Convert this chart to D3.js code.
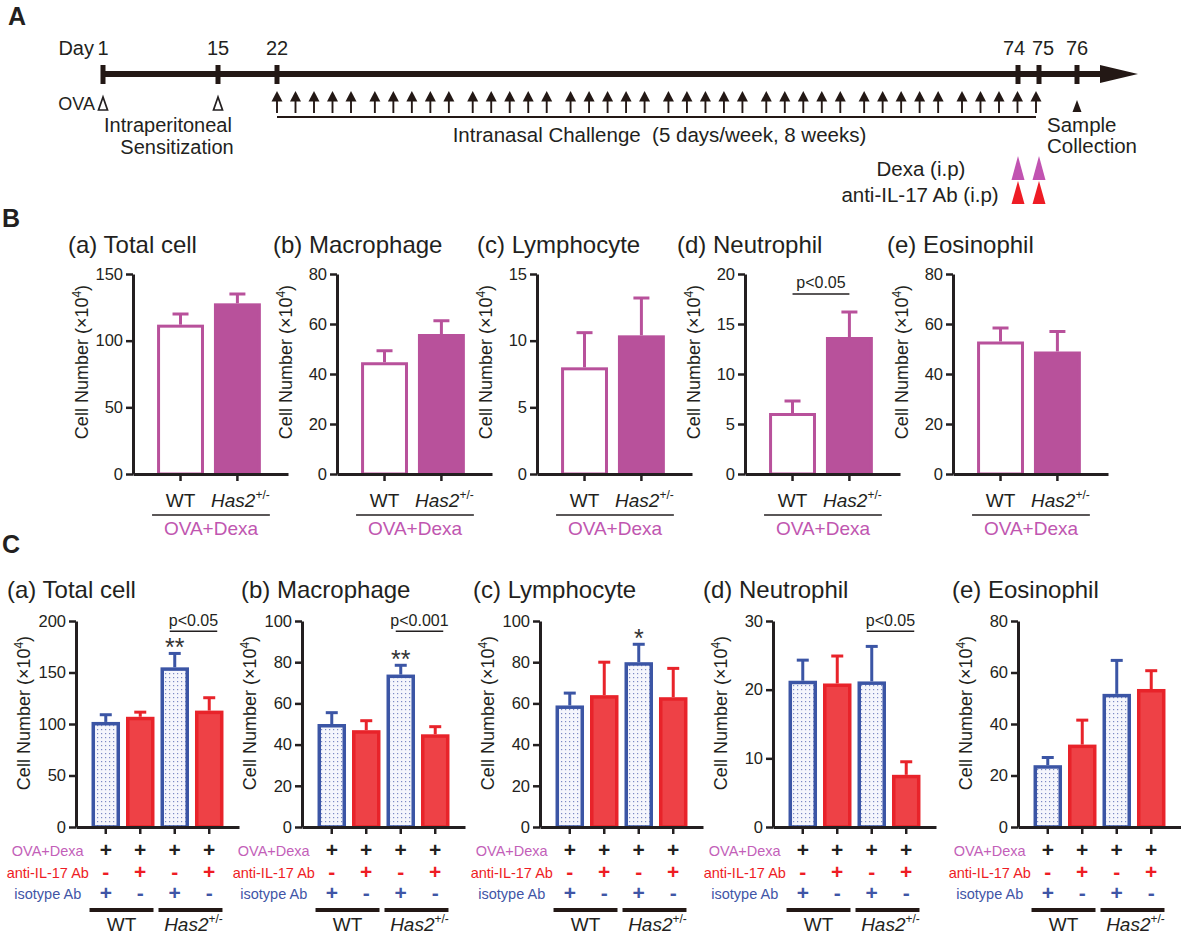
<!DOCTYPE html>
<html>
<head>
<meta charset="utf-8">
<title>Has2 BAL cells</title>
<script src="https://d3js.org/d3.v7.min.js"></script>
<style>
  body { margin: 0; background: #fff; }
  svg { display: block; font-family: "Liberation Sans", Arial, sans-serif; }
</style>
</head>
<body>
<svg id="fig" width="1181" height="937"></svg>
<script>
// ---------- data ----------
// timeline (panel A)
var dayTicks = [1, 15, 22, 74, 75, 76];
var ovaDays = [1, 15];
var challengeDays = [22, 23, 24, 25, 26, 29, 30, 31, 32, 33, 36, 37, 38, 39, 40,
                     43, 44, 45, 46, 47, 50, 51, 52, 53, 54, 57, 58, 59, 60, 61,
                     64, 65, 66, 67, 68, 71, 72, 73, 74, 75];
var dexaDays = [74, 75];
var antiIL17Days = [74, 75];
var sampleDays = [76];

// panel titles
var panelTags = ["(a)", "(b)", "(c)", "(d)", "(e)"];
var cellTypes = ["Total cell", "Macrophage", "Lymphocyte", "Neutrophil", "Eosinophil"];

// panel B : OVA+Dexa, WT vs Has2+/-  (mean, SEM)
var bGroups = ["WT", "Has2"];
var bTotal = [112, 128],      bTotalErr = [8, 7];
var bMacro = [44.7, 56],      bMacroErr = [4.6, 5.3];
var bLympho = [8.0, 10.4],    bLymphoErr = [2.6, 2.8];
var bNeutro = [6.1, 13.7],    bNeutroErr = [1.2, 2.5];
var bEosino = [53, 49],       bEosinoErr = [5.4, 8];
var bYMax = [150, 80, 15, 20, 80];
var bYStep = [50, 20, 5, 5, 20];

// panel C : WT/Has2 x isotype/anti-IL-17 (mean, SEM)
var cGroups = ["WT-iso", "WT-anti", "Has2-iso", "Has2-anti"];
var ovaDexaRow = ["+", "+", "+", "+"];
var antiIL17Row = ["-", "+", "-", "+"];
var isotypeRow = ["+", "-", "+", "-"];
var cTotal = [102, 107, 155, 113],   cTotalErr = [7, 4.5, 13.5, 12.5];
var cMacro = [50, 47, 74, 45],       cMacroErr = [5.5, 4.6, 4.5, 3.7];
var cLympho = [59, 64, 80, 63],      cLymphoErr = [6, 16, 8.7, 14];
var cNeutro = [21.3, 20.9, 21.2, 7.6], cNeutroErr = [3, 4, 5.1, 1.9];
var cEosino = [24, 32, 51.7, 53.6],  cEosinoErr = [3, 9.5, 13, 7.1];
var cYMax = [200, 100, 100, 30, 80];
var cYStep = [50, 20, 20, 10, 20];
var cStars = ["**", "**", "*", "", ""];
var cPValue = ["p<0.05", "p<0.001", "", "p<0.05", ""];

// ---------- styles ----------
var ink = "#231f20";
var magenta = "#b8519b";
var magentaText = "#c056b0";
var red = "#e8232a";
var redFill = "#ee4146";
var blue = "#3b55a5";

var svg = d3.select("#fig");

var pat = svg.append("defs").append("pattern")
  .attr("id", "dots").attr("width", 4).attr("height", 4)
  .attr("patternUnits", "userSpaceOnUse");
pat.append("rect").attr("width", 4).attr("height", 4).attr("fill", "#f5f6fc");
pat.append("rect").attr("x", 1).attr("y", 1).attr("width", 1.2).attr("height", 1.2).attr("fill", "#7c89c4");

function letter(t, x, y) {
  svg.append("text").attr("x", x).attr("y", y)
    .attr("font-size", 25).attr("font-weight", "bold").attr("fill", ink).text(t);
}
letter("A", 8, 25);
letter("B", 2, 227);
letter("C", 2, 553);

// ---------- A: timeline ----------
var xDay = d3.scaleLinear().domain(dayTicks).range([103, 218, 277, 1018, 1039, 1077]);
var xWeek = d3.scaleLinear().domain([0, 7]).range([277, 962]);
var xWeekday = d3.scaleLinear().domain([0, 4]).range([0, 74]);
function xChallenge(d) {
  var k = d - challengeDays[0];
  return xWeek(Math.floor(k / 7)) + xWeekday(k % 7);
}

var tl = svg.append("g").attr("fill", ink);
var lineY = 74;

tl.append("line")
  .attr("x1", xDay(dayTicks[0])).attr("x2", 1104)
  .attr("y1", lineY).attr("y2", lineY)
  .attr("stroke", "#231815").attr("stroke-width", 6);
tl.append("path")
  .attr("d", "M1100," + (lineY - 9) + "L1138," + lineY + "L1100," + (lineY + 9) + "Z")
  .attr("fill", "#231815");

tl.selectAll("rect.tick").data(dayTicks).enter().append("rect")
  .attr("x", function(d) { return xDay(d) - 2.5; })
  .attr("y", lineY - 9).attr("width", 5).attr("height", 19)
  .attr("fill", "#231815");

tl.append("text").attr("x", xDay(1) - 9).attr("y", 55)
  .attr("text-anchor", "end").attr("font-size", 20).text("Day");
tl.selectAll("text.day").data(dayTicks).enter().append("text")
  .attr("x", function(d) { return xDay(d) + (d === 74 ? -4 : d === 75 ? 4 : 0); })
  .attr("y", 55).attr("text-anchor", "middle").attr("font-size", 20)
  .text(function(d) { return d; });

tl.append("text").attr("x", xDay(1) - 8).attr("y", 110)
  .attr("text-anchor", "end").attr("font-size", 18).text("OVA");
tl.selectAll("path.ova").data(ovaDays).enter().append("path")
  .attr("d", function(d) { var x = xDay(d); return "M" + x + ",97L" + (x + 4.5) + ",110L" + (x - 4.5) + ",110Z"; })
  .attr("fill", "#fff").attr("stroke", ink).attr("stroke-width", 1.7);
tl.append("text").attr("x", 168).attr("y", 132).attr("text-anchor", "middle")
  .attr("font-size", 20).text("Intraperitoneal");
tl.append("text").attr("x", 177).attr("y", 154).attr("text-anchor", "middle")
  .attr("font-size", 20).text("Sensitization");

var ch = tl.selectAll("g.ch").data(challengeDays).enter().append("g")
  .attr("transform", function(d) { return "translate(" + xChallenge(d) + ",0)"; });
ch.append("path").attr("d", "M0,91L5.5,101.5L-5.5,101.5Z").attr("fill", "#231815");
ch.append("line").attr("y1", 100).attr("y2", 113).attr("stroke", "#231815").attr("stroke-width", 1.9);

var cFirst = xChallenge(challengeDays[0]), cLast = xChallenge(challengeDays[challengeDays.length - 1]);
tl.append("line").attr("x1", cFirst).attr("x2", cLast).attr("y1", 117).attr("y2", 117)
  .attr("stroke", "#231815").attr("stroke-width", 2);
tl.append("text").attr("x", (cFirst + cLast) / 2 + 3).attr("y", 142)
  .attr("text-anchor", "middle").attr("font-size", 20.5).attr("xml:space", "preserve")
  .text("Intranasal Challenge  (5 days/week, 8 weeks)");

tl.selectAll("path.sample").data(sampleDays).enter().append("path")
  .attr("d", function(d) { var x = xDay(d); return "M" + x + ",100L" + (x + 4.5) + ",112L" + (x - 4.5) + ",112Z"; })
  .attr("fill", "#231815");
tl.append("text").attr("x", xDay(76) - 30).attr("y", 132).attr("font-size", 20.5).text("Sample");
tl.append("text").attr("x", xDay(76) - 30).attr("y", 153).attr("font-size", 20.5).text("Collection");

tl.selectAll("path.dexa").data(dexaDays).enter().append("path")
  .attr("d", function(d) { var x = xDay(d); return "M" + x + ",156L" + (x + 6.5) + ",180L" + (x - 6.5) + ",180Z"; })
  .attr("fill", "#c153b1");
tl.selectAll("path.anti").data(antiIL17Days).enter().append("path")
  .attr("d", function(d) { var x = xDay(d); return "M" + x + ",181L" + (x + 6.5) + ",204L" + (x - 6.5) + ",204Z"; })
  .attr("fill", "#ee1c25");
tl.append("text").attr("x", 921).attr("y", 176).attr("text-anchor", "middle")
  .attr("font-size", 20.5).text("Dexa (i.p)");
tl.append("text").attr("x", 920).attr("y", 202).attr("text-anchor", "middle")
  .attr("font-size", 20.5).text("anti-IL-17 Ab (i.p)");

// ---------- helpers ----------
function styleAxis(g) {
  g.attr("font-family", null).attr("font-size", 16.5).attr("color", ink);
  g.select(".domain").attr("stroke-width", 3);
  g.selectAll(".tick line").attr("stroke-width", 2.5);
}
function yTitle(g, x, y) {
  var t = g.append("text").attr("transform", "translate(" + x + "," + y + ") rotate(-90)")
    .attr("text-anchor", "middle").attr("font-size", 18).attr("fill", ink);
  t.append("tspan").text("Cell Number (\u00d710");
  t.append("tspan").attr("font-size", 12).attr("dy", -7).text("4");
  t.append("tspan").attr("dy", 7).text(")");
}
function has2(sel) {
  sel.append("tspan").attr("font-style", "italic").text("Has2");
  sel.append("tspan").attr("font-size", 12).attr("dy", -8).text("+/-");
}

// ---------- B ----------
var bMeans = [bTotal, bMacro, bLympho, bNeutro, bEosino];
var bErrs = [bTotalErr, bMacroErr, bLymphoErr, bNeutroErr, bEosinoErr];
var bAxisX = [133, 337, 537, 745, 953];
var bTitleX = [68, 273, 477, 677, 887];
var bTop = 274, bBot = 474;

cellTypes.forEach(function(name, i) {
  var ax = bAxisX[i];
  var g = svg.append("g");
  var y = d3.scaleLinear().domain([0, bYMax[i]]).range([bBot, bTop]);
  var x = d3.scaleBand().domain(bGroups).range([ax, ax + 155])
    .paddingInner(0.175).paddingOuter(0.45).align(0.47);
  var bw = x.bandwidth();
  var rows = bGroups.map(function(k, j) { return {k: k, v: bMeans[i][j], e: bErrs[i][j]}; });

  g.append("text").attr("x", bTitleX[i]).attr("y", 253).attr("font-size", 24).attr("fill", ink)
    .text(panelTags[i] + " " + name);

  // error bars
  var eb = g.selectAll("g.err").data(rows).enter().append("g")
    .attr("stroke", magenta).attr("stroke-width", 3);
  eb.append("line").attr("x1", function(d) { return x(d.k) + bw / 2; })
    .attr("x2", function(d) { return x(d.k) + bw / 2; })
    .attr("y1", function(d) { return y(d.v); }).attr("y2", function(d) { return y(d.v + d.e); });
  eb.append("line").attr("x1", function(d) { return x(d.k) + bw / 2 - 8; })
    .attr("x2", function(d) { return x(d.k) + bw / 2 + 8; })
    .attr("y1", function(d) { return y(d.v + d.e); }).attr("y2", function(d) { return y(d.v + d.e); });

  g.selectAll("rect.bar").data(rows).enter().append("rect")
    .attr("x", function(d) { return x(d.k) + 1.5; })
    .attr("width", bw - 3)
    .attr("y", function(d) { return y(d.v) + 1.5; })
    .attr("height", function(d) { return bBot - y(d.v) - 1.5; })
    .attr("fill", function(d, j) { return j === 0 ? "#fff" : magenta; })
    .attr("stroke", magenta).attr("stroke-width", 3);

  g.append("g").attr("transform", "translate(" + ax + ",0)")
    .call(d3.axisLeft(y).tickValues(d3.range(0, bYMax[i] + 0.1, bYStep[i]))
      .tickSize(7).tickSizeOuter(0).tickPadding(3))
    .call(styleAxis);
  g.append("g").attr("transform", "translate(0," + bBot + ")")
    .call(d3.axisBottom(x).tickSize(7).tickSizeOuter(0).tickFormat(""))
    .call(styleAxis);

  yTitle(g, ax - 45, (bTop + bBot) / 2 - 12);

  g.append("text").attr("x", x("WT") + bw / 2).attr("y", bBot + 33)
    .attr("text-anchor", "middle").attr("font-size", 19).attr("fill", ink).text("WT");
  var ht = g.append("text").attr("x", x("Has2") + bw / 2 + 3).attr("y", bBot + 33)
    .attr("text-anchor", "middle").attr("font-size", 19).attr("fill", ink);
  has2(ht);

  var l0 = x("WT") - 5, l1 = x("Has2") + bw + 9;
  g.append("line").attr("x1", l0).attr("x2", l1).attr("y1", bBot + 41).attr("y2", bBot + 41)
    .attr("stroke", ink).attr("stroke-width", 1.6);
  g.append("text").attr("x", (l0 + l1) / 2).attr("y", bBot + 61).attr("text-anchor", "middle")
    .attr("font-size", 19).attr("fill", magentaText).text("OVA+Dexa");

  if (name === "Neutrophil") {
    var p0 = x("WT") + bw / 2, p1 = x("Has2") + bw / 2;
    g.append("line").attr("x1", p0).attr("x2", p1).attr("y1", bTop + 20).attr("y2", bTop + 20)
      .attr("stroke", ink).attr("stroke-width", 1.5);
    g.append("text").attr("x", (p0 + p1) / 2).attr("y", bTop + 14).attr("text-anchor", "middle")
      .attr("font-size", 16).attr("fill", ink).text("p<0.05");
  }
});

// ---------- C ----------
var cMeans = [cTotal, cMacro, cLympho, cNeutro, cEosino];
var cErrs = [cTotalErr, cMacroErr, cLymphoErr, cNeutroErr, cEosinoErr];
var cAxisX = [76, 302, 540, 773, 1018];
var cTitleX = [7, 241, 473, 703, 952];
var cTop = 621, cBot = 827;
var rowDefs = [
  {label: "OVA+Dexa", vals: ovaDexaRow, lab: "#c35fb9", sym: ink},
  {label: "anti-IL-17 Ab", vals: antiIL17Row, lab: "#ee1c24", sym: "#ee1c24"},
  {label: "isotype Ab", vals: isotypeRow, lab: "#3f55a6", sym: "#3f55a6"}
];

cellTypes.forEach(function(name, i) {
  var ax = cAxisX[i];
  var g = svg.append("g");
  var y = d3.scaleLinear().domain([0, cYMax[i]]).range([cBot, cTop]);
  var x = d3.scaleBand().domain(cGroups).range([ax, ax + 163])
    .paddingInner(0.174).paddingOuter(0.45).align(0.5);
  var bw = x.bandwidth();
  var rows = cGroups.map(function(k, j) {
    return {k: k, v: cMeans[i][j], e: cErrs[i][j], iso: isotypeRow[j] === "+"};
  });
  function cx(k) { return x(k) + bw / 2; }

  g.append("text").attr("x", cTitleX[i]).attr("y", 598).attr("font-size", 24).attr("fill", ink)
    .text(panelTags[i] + " " + name);

  var eb = g.selectAll("g.err").data(rows).enter().append("g")
    .attr("stroke", function(d) { return d.iso ? blue : red; }).attr("stroke-width", 3);
  eb.append("line").attr("x1", function(d) { return cx(d.k); }).attr("x2", function(d) { return cx(d.k); })
    .attr("y1", function(d) { return y(d.v); }).attr("y2", function(d) { return y(d.v + d.e); });
  eb.append("line").attr("x1", function(d) { return cx(d.k) - 6; }).attr("x2", function(d) { return cx(d.k) + 6; })
    .attr("y1", function(d) { return y(d.v + d.e); }).attr("y2", function(d) { return y(d.v + d.e); });

  g.selectAll("rect.bar").data(rows).enter().append("rect")
    .attr("x", function(d) { return x(d.k) + 1.75; })
    .attr("width", bw - 3.5)
    .attr("y", function(d) { return y(d.v) + 1.75; })
    .attr("height", function(d) { return cBot - y(d.v) - 1.75; })
    .attr("fill", function(d) { return d.iso ? "url(#dots)" : redFill; })
    .attr("stroke", function(d) { return d.iso ? blue : red; })
    .attr("stroke-width", 3.5);

  g.append("g").attr("transform", "translate(" + ax + ",0)")
    .call(d3.axisLeft(y).tickValues(d3.range(0, cYMax[i] + 0.1, cYStep[i]))
      .tickSize(7).tickSizeOuter(0).tickPadding(3))
    .call(styleAxis);
  g.append("g").attr("transform", "translate(0," + cBot + ")")
    .call(d3.axisBottom(x).tickSize(7).tickSizeOuter(0).tickFormat(""))
    .call(styleAxis);

  yTitle(g, ax - 46, (cTop + cBot) / 2 - 11);

  // significance
  if (cStars[i]) {
    g.append("text").attr("x", cx(cGroups[2])).attr("y", y(rows[2].v + rows[2].e) + 3)
      .attr("text-anchor", "middle").attr("font-size", 25).attr("fill", "#333").text(cStars[i]);
  }
  if (cPValue[i]) {
    var p0 = cx(cGroups[2]) - 5, p1 = cx(cGroups[3]) + 8, py = y(cYMax[i] * 0.95);
    g.append("line").attr("x1", p0).attr("x2", p1).attr("y1", py).attr("y2", py)
      .attr("stroke", ink).attr("stroke-width", 1.5);
    g.append("text").attr("x", (p0 + p1) / 2).attr("y", py - 5).attr("text-anchor", "middle")
      .attr("font-size", 16).attr("fill", ink).text(cPValue[i]);
  }

  // condition table
  var labelX = cx(cGroups[0]) - 58;
  rowDefs.forEach(function(r, ri) {
    var by = cBot + 29 + ri * 21.5;
    g.append("text").attr("x", labelX).attr("y", by).attr("text-anchor", "middle")
      .attr("font-size", 14.5).attr("fill", r.lab).text(r.label);
    g.selectAll("text.sym" + ri).data(r.vals).enter().append("text")
      .attr("x", function(d, j) { return cx(cGroups[j]); })
      .attr("y", by + 1).attr("text-anchor", "middle")
      .attr("font-size", 21).attr("font-weight", "bold").attr("fill", r.sym)
      .text(function(d) { return d; });
  });

  var gl = [[cGroups[0], cGroups[1]], [cGroups[2], cGroups[3]]];
  gl.forEach(function(pair, pi) {
    var a0 = x(pair[0]) - 2, a1 = x(pair[1]) + bw - 1;
    g.append("line").attr("x1", a0).attr("x2", a1).attr("y1", cBot + 83).attr("y2", cBot + 83)
      .attr("stroke", "#231815").attr("stroke-width", 4);
    var t = g.append("text").attr("x", (a0 + a1) / 2 + (pi ? 3 : 0)).attr("y", cBot + 104)
      .attr("text-anchor", "middle").attr("font-size", 19).attr("fill", ink);
    if (pi === 0) t.text("WT"); else has2(t);
  });
});
</script>
</body>
</html>
